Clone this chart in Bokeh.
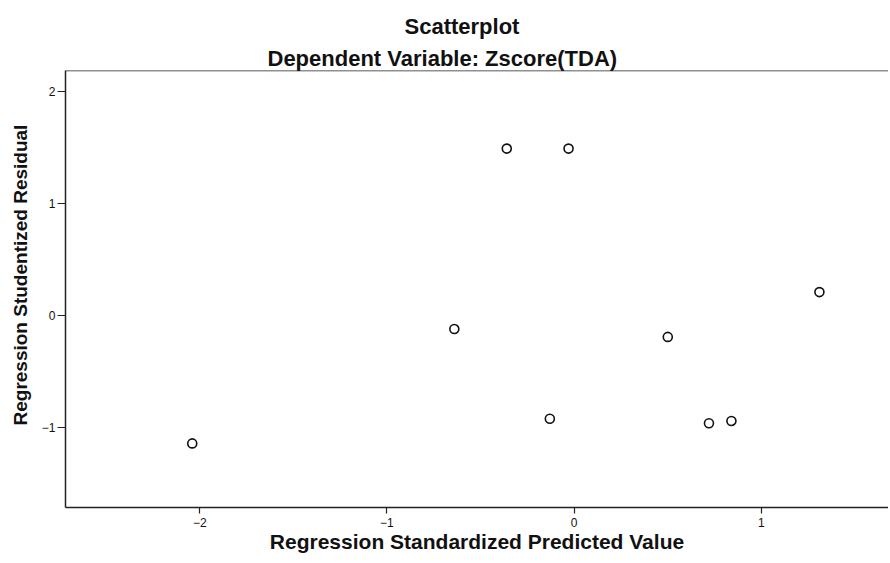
from bokeh.plotting import figure
from bokeh.models import Title, Span, FixedTicker, Range1d
from bokeh.embed import file_html
from bokeh.resources import INLINE

# Data
pred = [-2.04, -0.64, -0.36, -0.03, -0.13, 0.50, 0.72, 0.84, 1.31]
resid = [-1.14, -0.12, 1.49, 1.49, -0.92, -0.19, -0.96, -0.94, 0.21]
x_ticks = [-2, -1, 0, 1]
y_ticks = [-1, 0, 1, 2]
x_lo, x_hi = -2.717, 1.679
y_lo, y_hi = -1.712, 2.187

FONT = "Liberation Sans"

p = figure(width=888, height=555, output_backend="svg", toolbar_location=None,
           x_range=Range1d(x_lo, x_hi), y_range=Range1d(y_lo, y_hi),
           min_border_left=58, min_border_right=0, min_border_bottom=0, min_border_top=0)
p.title = None
p.outline_line_color = None
p.xgrid.visible = False
p.ygrid.visible = False
p.background_fill_color = "white"
p.border_fill_color = "white"

def ttl(text, size, align, offset, standoff):
    return Title(text=text, align=align, offset=offset, text_font=FONT,
                 text_font_style="bold", text_font_size=size,
                 text_color="#111111", standoff=standoff)

p.add_layout(ttl("Dependent Variable: Zscore(TDA)", "22px", "left", 202, 0), "above")
p.add_layout(ttl("Scatterplot", "22px", "left", 339, 10), "above")
p.add_layout(Title(text=" ", text_font_size="2px", standoff=2), "above")
p.add_layout(ttl("Regression Studentized Residual", "19px", "left", 82, 15), "left")

p.scatter(pred, resid, marker="circle", size=9, fill_color=None,
          line_color="#111111", line_width=1.6)

p.add_layout(Span(location=y_hi, dimension="width", line_color="#222222", line_width=1.5))

for ax in (p.xaxis[0], p.yaxis[0]):
    ax.axis_line_color = "#222222"
    ax.axis_line_width = 1.5
    ax.major_tick_line_color = "#222222"
    ax.major_tick_line_width = 1.2
    ax.major_tick_in = 0
    ax.minor_tick_line_color = None
    ax.major_label_text_font = FONT
    ax.major_label_text_font_size = "12px"
    ax.major_label_text_color = "#111111"

p.xaxis[0].ticker = FixedTicker(ticks=x_ticks)
p.yaxis[0].ticker = FixedTicker(ticks=y_ticks)
p.xaxis[0].major_tick_out = 6
p.yaxis[0].major_tick_out = 8
p.xaxis[0].major_label_standoff = 4
p.yaxis[0].major_label_standoff = 2
p.xaxis[0].axis_label = "Regression Standardized Predicted Value"
p.xaxis[0].axis_label_text_font = FONT
p.xaxis[0].axis_label_text_font_style = "bold"
p.xaxis[0].axis_label_text_color = "#111111"
p.xaxis[0].axis_label_text_font_size = "21px"
p.xaxis[0].axis_label_standoff = 0

open("out.html", "w").write(file_html(p, INLINE))
